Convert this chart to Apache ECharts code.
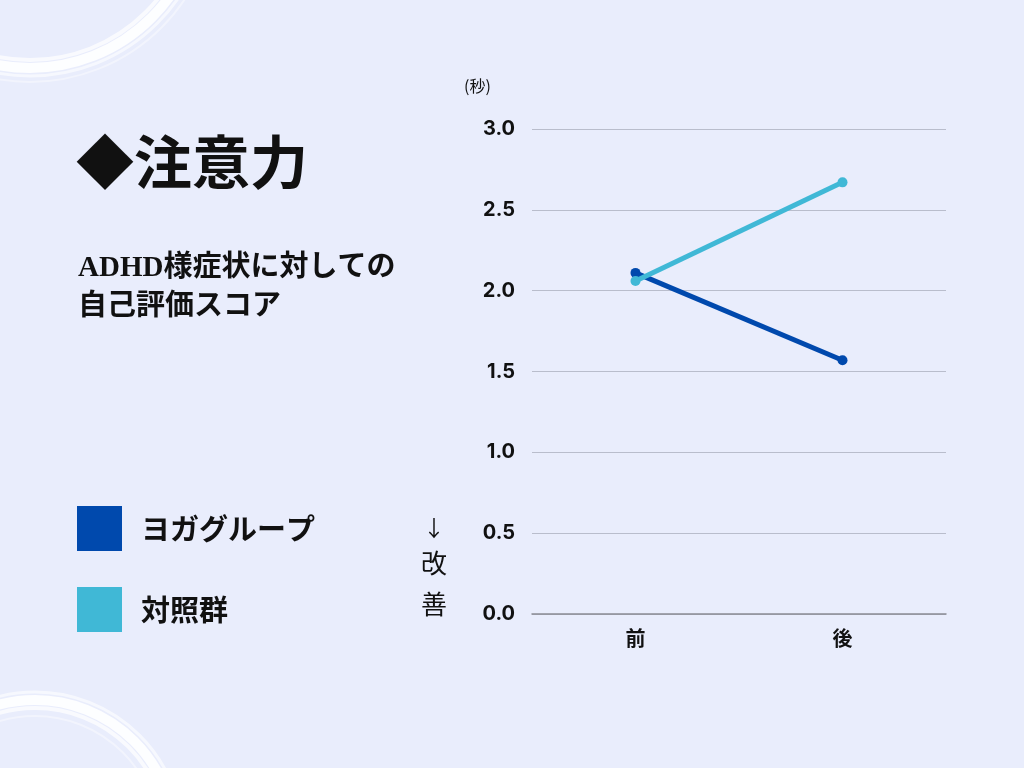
<!DOCTYPE html>
<html><head><meta charset="utf-8">
<script src="https://cdn.jsdelivr.net/npm/echarts@6/dist/echarts.min.js"></script>
<style>html,body{margin:0;padding:0;background:#E9EDFC;}#c{width:1024px;height:768px;}</style>
</head><body><div id="c"></div>
<script>
const categories = ['前', '後'];
const yogaValues = [2.11, 1.57];
const controlValues = [2.06, 2.67];
const seriesNames = ['ヨガグループ', '対照群'];
const yTicks = { min: 0, max: 3, interval: 0.5 };

const chart = echarts.init(document.getElementById('c'));
const sans = '"Noto Sans CJK JP", "Noto Sans", sans-serif';
const arcs = [];
// decorative brush arcs
[[30,-104,172,10,0.9],[30,-104,164,4,0.7],[30,-104,180,3,0.6],[30,-104,186,2,0.4]].forEach(a=>{
  arcs.push({type:'arc',shape:{cx:a[0],cy:a[1],r:a[2],startAngle:0,endAngle:Math.PI},style:{stroke:'#ffffff',lineWidth:a[3],fill:null,opacity:a[4]},silent:true,z:0});
});
[[35,840,140,10,0.9],[35,840,132,4,0.7],[35,840,148,3,0.6],[35,840,124,2,0.4]].forEach(a=>{
  arcs.push({type:'arc',shape:{cx:a[0],cy:a[1],r:a[2],startAngle:Math.PI,endAngle:2*Math.PI},style:{stroke:'#ffffff',lineWidth:a[3],fill:null,opacity:a[4]},silent:true,z:0});
});

chart.setOption({
  backgroundColor: '#E9EDFC',
  animation: false,
  grid: { left: 532, right: 78, top: 129, bottom: 154 },
  legend: {
    orient: 'vertical', left: 72, top: 501, itemWidth: 45, itemHeight: 45, itemGap: 36,
    icon: 'rect',
    data: seriesNames,
    textStyle: { fontSize: 29, fontWeight: 'bold', color: '#111', fontFamily: sans, padding: [0,0,0,14] }
  },
  xAxis: {
    type: 'category', data: categories, boundaryGap: true,
    axisLine: { lineStyle: { color: '#8a8c94', width: 1.5 } },
    axisTick: { show: false },
    axisLabel: { fontSize: 20, fontWeight: 'bold', color: '#111', margin: 14, fontFamily: sans }
  },
  yAxis: {
    type: 'value', min: yTicks.min, max: yTicks.max, interval: yTicks.interval,
    axisLine: { show: false }, axisTick: { show: false },
    axisLabel: { formatter: v => v.toFixed(1), fontSize: 20, fontWeight: 'bold', color: '#111', margin: 17, fontFamily: 'Inter, Roboto, sans-serif' },
    splitLine: { lineStyle: { color: '#b9bdcc', width: 1 } }
  },
  series: [
    { name: seriesNames[0], type: 'line', data: yogaValues, color: '#0049AD', symbol: 'circle', symbolSize: 10,
      lineStyle: { width: 5, color: '#0049AD' }, itemStyle: { color: '#0049AD' }, z: 3 },
    { name: seriesNames[1], type: 'line', data: controlValues, color: '#40B8D6', symbol: 'circle', symbolSize: 10,
      lineStyle: { width: 5, color: '#40B8D6' }, itemStyle: { color: '#40B8D6' }, z: 4 }
  ],
  graphic: arcs.concat([
    { type: 'text', left: 76, top: 140, style: { text: '◆注意力', fontSize: 58, fontWeight: 'bold', fill: '#111', fontFamily: '"Liberation Serif", "Noto Sans CJK JP", serif' } },
    { type: 'text', left: 78, top: 249, style: { text: 'ADHD様症状に対しての\n自己評価スコア', fontSize: 29, lineHeight: 39, fontWeight: 'bold', fill: '#111', fontFamily: '"Liberation Serif", "Noto Sans CJK JP", serif' } },
    { type: 'text', left: 464, top: 78, style: { text: '(秒)', fontSize: 16, fill: '#111', fontFamily: sans } },
    { type: 'text', x: 434, y: 528, style: { text: '↓', fontSize: 22, fill: '#111', align: 'center', verticalAlign: 'middle', fontFamily: sans } },
    { type: 'text', x: 434, y: 563, style: { text: '改', fontSize: 26, fill: '#111', align: 'center', verticalAlign: 'middle', fontFamily: sans } },
    { type: 'text', x: 434, y: 604, style: { text: '善', fontSize: 26, fill: '#111', align: 'center', verticalAlign: 'middle', fontFamily: sans } }
  ])
});
</script></body></html>
